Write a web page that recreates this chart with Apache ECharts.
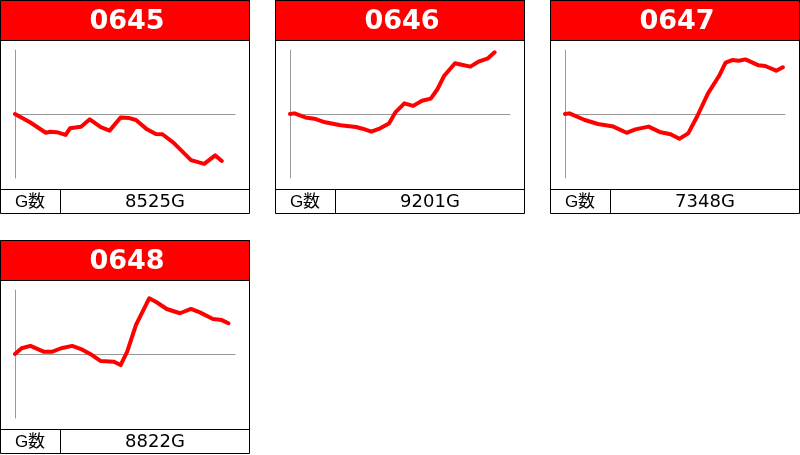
<!DOCTYPE html>
<html>
<head>
<meta charset="utf-8">
<script src="https://cdn.jsdelivr.net/npm/echarts@6/dist/echarts.min.js"></script>
<style>
  html, body { margin: 0; padding: 0; background: #fff; }
  #main { width: 800px; height: 455px; }
</style>
</head>
<body>
<div id="main"></div>
<script>
// machine numbers and game counts
var machines = ['0645', '0646', '0647', '0648'];
var games = ['8525G', '9201G', '7348G', '8822G'];

// slump data: x = progress (0-100), y = coin difference
var x0645 = [0, 7, 14, 16, 19, 23, 25, 30, 34, 39, 43, 48, 52, 55, 60, 64, 67, 72, 80, 86, 91, 94];
var y0645 = [0, -400, -880, -830, -850, -980, -670, -600, -250, -620, -780, -160, -190, -280, -720, -940, -950, -1340, -2160, -2340, -1940, -2200];

var x0646 = [0, 2, 7, 11, 16, 23, 30, 33, 37, 41, 45, 48, 52, 56, 60, 64, 67, 70, 75, 78, 82, 86, 90, 93];
var y0646 = [0, 30, -160, -220, -390, -530, -610, -690, -830, -670, -440, 90, 500, 380, 620, 720, 1160, 1780, 2380, 2310, 2220, 2470, 2610, 2890];

var x0647 = [0, 2, 9, 15, 22, 28, 32, 38, 43, 48, 52, 56, 60, 65, 70, 73, 76, 79, 82, 88, 91, 96, 99];
var y0647 = [0, 30, -280, -470, -590, -880, -720, -590, -840, -950, -1160, -910, -130, 970, 1780, 2410, 2530, 2500, 2560, 2280, 2250, 2030, 2190];

var x0648 = [0, 3, 7, 13, 17, 21, 26, 30, 35, 39, 45, 48, 51, 55, 61, 64, 69, 75, 80, 84, 90, 94, 97];
var y0648 = [0, 270, 380, 110, 110, 270, 380, 230, -50, -330, -360, -520, 110, 1360, 2610, 2450, 2110, 1910, 2110, 1950, 1640, 1590, 1440];

var xs = [x0645, x0646, x0647, x0648];
var ys = [y0645, y0646, y0647, y0648];

var panelLeft = [0, 275, 550, 0];
var panelTop = [0, 0, 0, 240];

var grids = [], xAxes = [], yAxes = [], series = [], graphics = [];

for (var i = 0; i < machines.length; i++) {
    var px = panelLeft[i], py = panelTop[i];

    grids.push({ left: px + 15, top: py + 50, width: 220, height: 128 });
    xAxes.push({
        gridIndex: i, type: 'value', min: 0, max: 100,
        axisLine: { show: true, onZero: true, lineStyle: { color: '#999', width: 1 } },
        axisTick: { show: false }, axisLabel: { show: false }, splitLine: { show: false }
    });
    yAxes.push({
        gridIndex: i, type: 'value', min: -3000, max: 3000,
        axisLine: { show: true, onZero: false, lineStyle: { color: '#999', width: 1 } },
        axisTick: { show: false }, axisLabel: { show: false }, splitLine: { show: false }
    });

    var pts = [];
    for (var j = 0; j < xs[i].length; j++) pts.push([xs[i][j], ys[i][j]]);
    series.push({
        type: 'line', xAxisIndex: i, yAxisIndex: i, data: pts,
        symbol: 'none', smooth: false, animation: false,
        lineStyle: { color: '#ff0000', width: 4, cap: 'round', join: 'round' }
    });

    // header, frame and footer cells
    graphics.push({ type: 'rect', shape: { x: px + 0.5, y: py + 0.5, width: 249, height: 40 },
        style: { fill: '#ff0000', stroke: '#000', lineWidth: 1 } });
    graphics.push({ type: 'rect', shape: { x: px + 0.5, y: py + 0.5, width: 249, height: 213 },
        style: { fill: 'none', stroke: '#000', lineWidth: 1 } });
    graphics.push({ type: 'line', shape: { x1: px, y1: py + 189.5, x2: px + 250, y2: py + 189.5 },
        style: { stroke: '#000', lineWidth: 1 } });
    graphics.push({ type: 'line', shape: { x1: px + 60.5, y1: py + 189.5, x2: px + 60.5, y2: py + 213.5 },
        style: { stroke: '#000', lineWidth: 1 } });
    graphics.push({ type: 'text', x: px + 127, y: py + 22, style: {
        text: machines[i], fill: '#fff', font: 'bold 27px "DejaVu Sans"',
        textAlign: 'center', textVerticalAlign: 'middle' } });
    graphics.push({ type: 'text', x: px + 30, y: py + 202, style: {
        text: 'G数', fill: '#000', font: '17px "Liberation Sans", "Noto Sans CJK JP"',
        textAlign: 'center', textVerticalAlign: 'middle' } });
    graphics.push({ type: 'text', x: px + 155, y: py + 202, style: {
        text: games[i], fill: '#000', font: '18px "DejaVu Sans"',
        textAlign: 'center', textVerticalAlign: 'middle' } });
}

var chart = echarts.init(document.getElementById('main'));
chart.setOption({
    animation: false,
    backgroundColor: '#fff',
    grid: grids,
    xAxis: xAxes,
    yAxis: yAxes,
    series: series,
    graphic: graphics
});
</script>
</body>
</html>
